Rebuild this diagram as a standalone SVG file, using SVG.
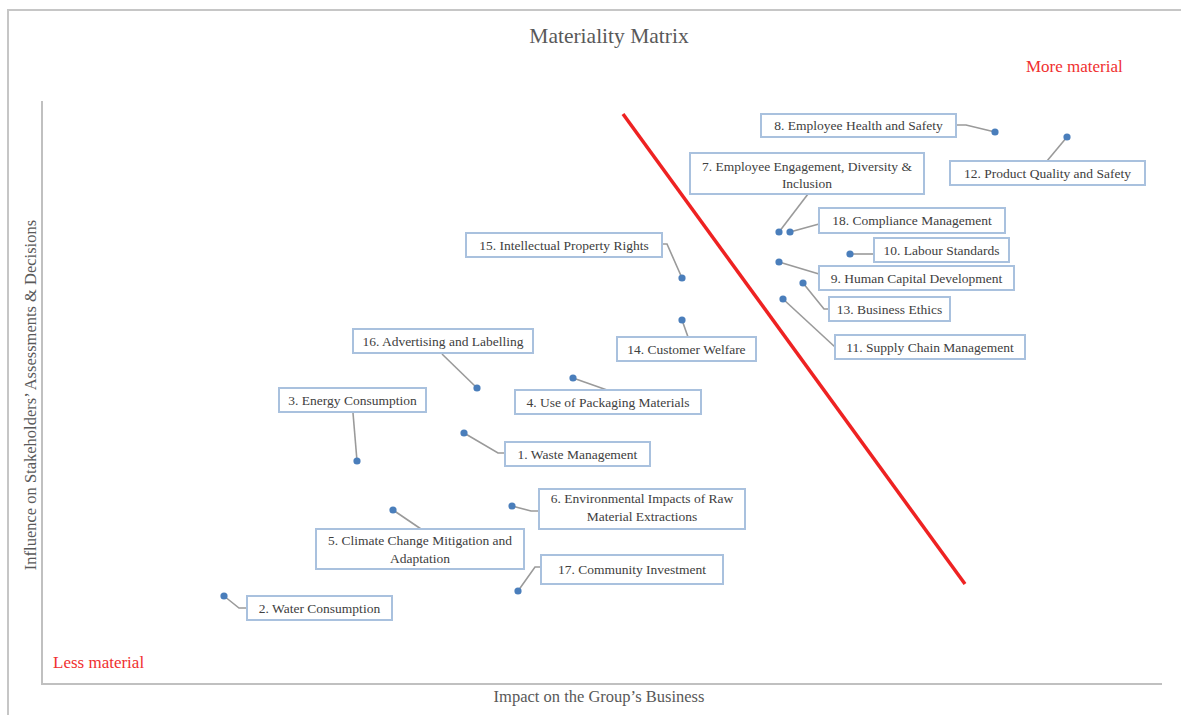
<svg xmlns="http://www.w3.org/2000/svg" width="1181" height="715" viewBox="0 0 1181 715">
<style>
.frame{fill:none;stroke:#c6c6c6;stroke-width:2}
.axis{fill:none;stroke:#c0c0c0;stroke-width:2}
.box{fill:#ffffff;stroke:#a9c1de;stroke-width:2}
.lbl{font-family:"Liberation Serif","Times New Roman",serif;font-size:13.5px;fill:#404040;text-anchor:middle}
.dot{fill:#4a7ebb}
.lead{fill:none;stroke:#9a9a9a;stroke-width:1.6}
.title{font-family:"Liberation Serif","Times New Roman",serif;font-size:21.5px;fill:#595959;text-anchor:middle}
.ax{font-family:"Liberation Serif","Times New Roman",serif;font-size:16.5px;fill:#595959;text-anchor:middle}
.red{font-family:"Liberation Serif","Times New Roman",serif;font-size:17px;fill:#f03030}
</style>
<rect width="1181" height="715" fill="#ffffff"/>
<g id="frame">
<path class="frame" d="M8,715 V10 H1181"/>
<path class="axis" d="M42,101 V684 H1162"/>
</g>
<text class="title" x="609" y="43">Materiality Matrix</text>
<text class="red" x="1026" y="72">More material</text>
<text class="red" x="53" y="668">Less material</text>
<text class="ax" x="599" y="702">Impact on the Group’s Business</text>
<text class="ax" transform="translate(36,395) rotate(-90)">Influence on Stakeholders’ Assessments &amp; Decisions</text>
<line id="threshold" x1="623" y1="114" x2="965" y2="584" stroke="#ee2222" stroke-width="3.5"/>
<g id="connectors">
<polyline class="lead" points="957,125 966,125 995,132"/>
<polyline class="lead" points="1047,161 1067,137"/>
<polyline class="lead" points="808,194 779,232"/>
<polyline class="lead" points="819,224 790,232"/>
<polyline class="lead" points="850,254 874,254"/>
<polyline class="lead" points="779,262 819,274"/>
<polyline class="lead" points="803,283 824,309 829,309"/>
<polyline class="lead" points="783,299 835,347"/>
<polyline class="lead" points="682,320 688,337"/>
<polyline class="lead" points="662,244 667,244 682,278"/>
<polyline class="lead" points="442,354 477,388"/>
<polyline class="lead" points="353,413 357,461"/>
<polyline class="lead" points="573,378 607,390"/>
<polyline class="lead" points="464,433 498,453 505,453"/>
<polyline class="lead" points="512,506 531,511 539,511"/>
<polyline class="lead" points="393,510 421,529"/>
<polyline class="lead" points="518,591 535,567 541,567"/>
<polyline class="lead" points="224,596 239,608 247,608"/>
</g>
<g id="n8"><rect class="box" x="761" y="114" width="195" height="23"/><text class="lbl" x="858.5" y="130">8. Employee Health and Safety</text><circle class="dot" cx="995" cy="132" r="3.6"/></g>
<g id="n12"><rect class="box" x="950" y="161" width="195" height="24"/><text class="lbl" x="1047.5" y="178">12. Product Quality and Safety</text><circle class="dot" cx="1067" cy="137" r="3.6"/></g>
<g id="n7"><rect class="box" x="690" y="153" width="234" height="41"/><text class="lbl" x="807" y="171">7. Employee Engagement, Diversity &amp;</text><text class="lbl" x="807" y="188">Inclusion</text><circle class="dot" cx="779" cy="232" r="3.6"/></g>
<g id="n18"><rect class="box" x="819" y="208" width="186" height="25"/><text class="lbl" x="912" y="225">18. Compliance Management</text><circle class="dot" cx="790" cy="232" r="3.6"/></g>
<g id="n10"><rect class="box" x="874" y="238" width="135" height="24"/><text class="lbl" x="941.5" y="255">10. Labour Standards</text><circle class="dot" cx="850" cy="254" r="3.6"/></g>
<g id="n9"><rect class="box" x="819" y="266" width="195" height="24"/><text class="lbl" x="916.5" y="283">9. Human Capital Development</text><circle class="dot" cx="779" cy="262" r="3.6"/></g>
<g id="n13"><rect class="box" x="829" y="297" width="121" height="24"/><text class="lbl" x="889.5" y="314">13. Business Ethics</text><circle class="dot" cx="803" cy="283" r="3.6"/></g>
<g id="n11"><rect class="box" x="835" y="335" width="190" height="24"/><text class="lbl" x="930" y="352">11. Supply Chain Management</text><circle class="dot" cx="783" cy="299" r="3.6"/></g>
<g id="n14"><rect class="box" x="617" y="337" width="139" height="24"/><text class="lbl" x="686.5" y="354">14. Customer Welfare</text><circle class="dot" cx="682" cy="320" r="3.6"/></g>
<g id="n15"><rect class="box" x="466" y="233" width="196" height="24"/><text class="lbl" x="564" y="250">15. Intellectual Property Rights</text><circle class="dot" cx="682" cy="278" r="3.6"/></g>
<g id="n16"><rect class="box" x="353" y="329" width="180" height="24"/><text class="lbl" x="443" y="346">16. Advertising and Labelling</text><circle class="dot" cx="477" cy="388" r="3.6"/></g>
<g id="n3"><rect class="box" x="279" y="388" width="147" height="24"/><text class="lbl" x="352.5" y="405">3. Energy Consumption</text><circle class="dot" cx="357" cy="461" r="3.6"/></g>
<g id="n4"><rect class="box" x="515" y="390" width="186" height="24"/><text class="lbl" x="608" y="407">4. Use of Packaging Materials</text><circle class="dot" cx="573" cy="378" r="3.6"/></g>
<g id="n1"><rect class="box" x="505" y="442" width="145" height="24"/><text class="lbl" x="577.5" y="459">1. Waste Management</text><circle class="dot" cx="464" cy="433" r="3.6"/></g>
<g id="n6"><rect class="box" x="539" y="489" width="206" height="40"/><text class="lbl" x="642" y="503">6. Environmental Impacts of Raw</text><text class="lbl" x="642" y="521">Material Extractions</text><circle class="dot" cx="512" cy="506" r="3.6"/></g>
<g id="n5"><rect class="box" x="316" y="529" width="208" height="40"/><text class="lbl" x="420" y="545">5. Climate Change Mitigation and</text><text class="lbl" x="420" y="563">Adaptation</text><circle class="dot" cx="393" cy="510" r="3.6"/></g>
<g id="n17"><rect class="box" x="541" y="555" width="182" height="29"/><text class="lbl" x="632" y="574">17. Community Investment</text><circle class="dot" cx="518" cy="591" r="3.6"/></g>
<g id="n2"><rect class="box" x="247" y="596" width="145" height="24"/><text class="lbl" x="319.5" y="613">2. Water Consumption</text><circle class="dot" cx="224" cy="596" r="3.6"/></g>
</svg>
